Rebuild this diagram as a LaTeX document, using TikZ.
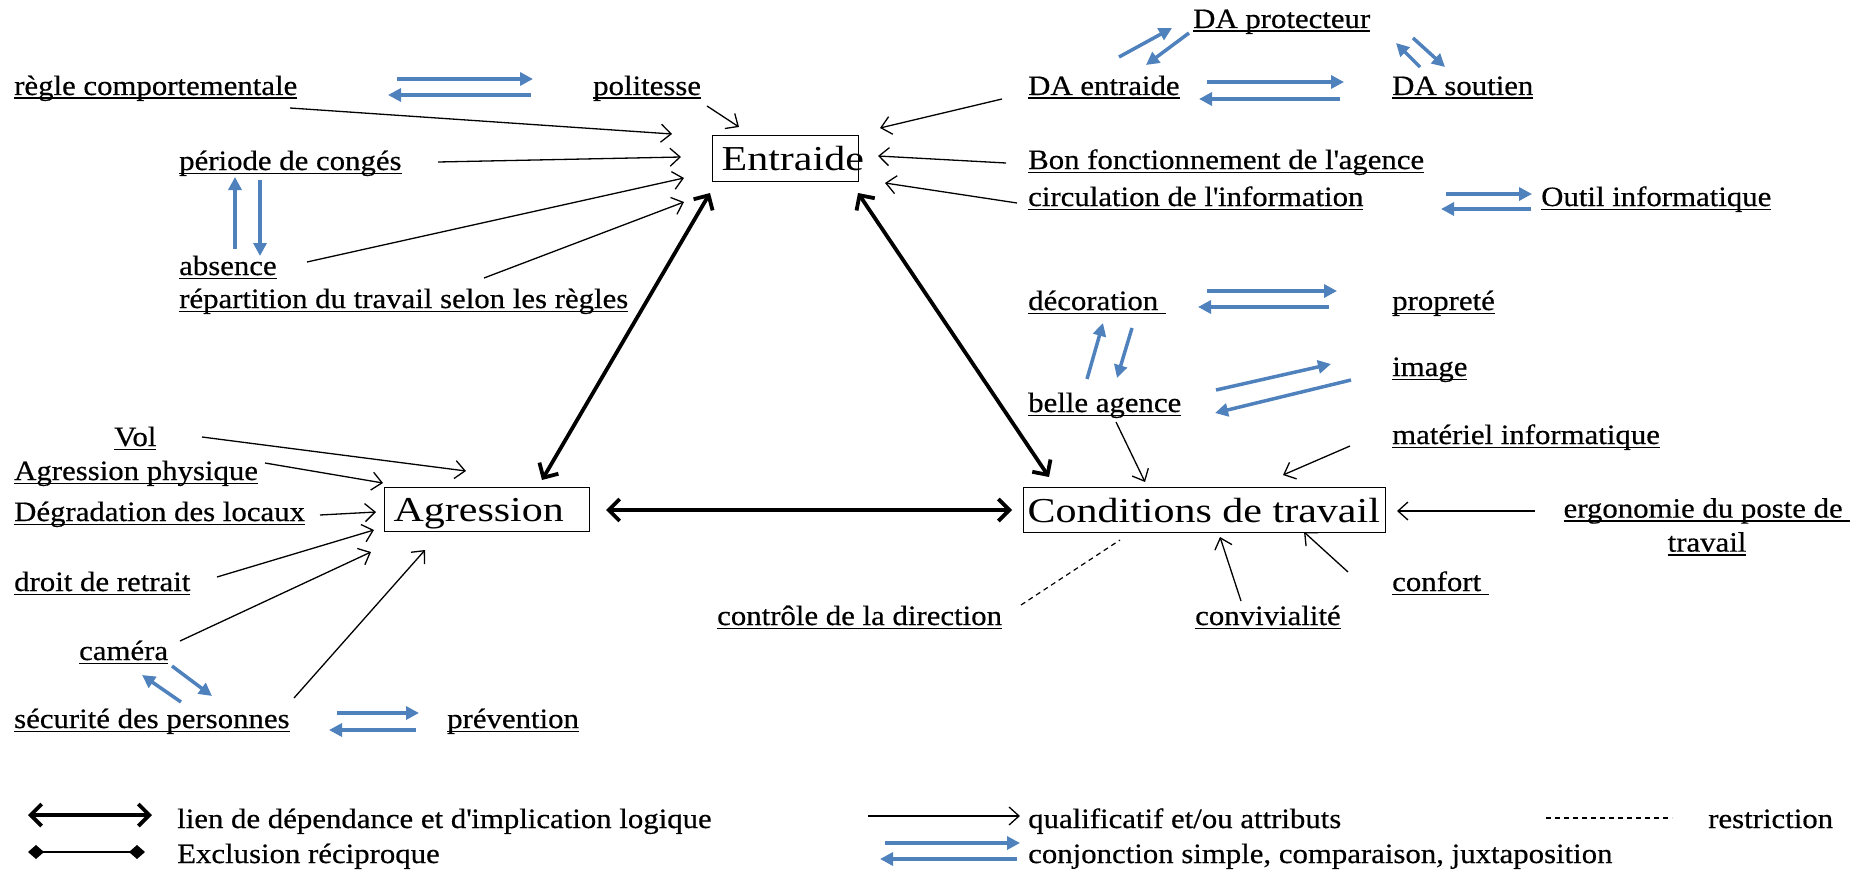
\documentclass[tikz,border=0pt]{standalone}
\usepackage{fontspec}
\setmainfont{Liberation Serif}[FakeStretch=1.1,FakeBold=0.5]
\newfontfamily\boxfnt{Liberation Serif}[FakeStretch=1.2]
\newsavebox\ulbox
\newcommand\uln[1]{\leavevmode\sbox\ulbox{#1}\rlap{\rule[-4pt]{\wd\ulbox}{1.5pt}}\usebox\ulbox}
\usetikzlibrary{arrows.meta}
\definecolor{cblue}{RGB}{79,129,189}
\begin{document}
\begin{tikzpicture}[x=1pt,y=-1pt,
 lbl/.style={inner sep=0pt, anchor=base west, font=\fontsize{28}{34}\selectfont},
 bx/.style={draw, line width=1.2pt, anchor=north west, inner sep=0pt, text height=24pt, text depth=0pt, font=\boxfnt\fontsize{35}{40}\selectfont},
 qa/.style={line width=1.3pt, -{Straight Barb[length=10pt,width=18pt]}},
 cj/.style={cblue, line width=3.5pt, -{Triangle[length=13pt,width=13pt]}},
 dep/.style={line width=3.8pt, {Straight Barb[length=11pt,width=22pt]}-{Straight Barb[length=11pt,width=22pt]}},
 exc/.style={line width=2.6pt, {Diamond[length=16pt,width=14pt]}-{Diamond[length=16pt,width=14pt]}},
 rst/.style={line width=1.2pt, dash pattern=on 5pt off 4pt},
]
\useasboundingbox (0,0) rectangle (1870,872);

% boxes
\node[bx, minimum height=46pt] (ent) at (712,135) {\makebox[146pt][l]{\hspace{9pt}Entraide}};
\node[bx, minimum height=44pt] (agr) at (384,487) {\makebox[205pt][l]{\hspace{9pt}Agression}};
\node[bx, minimum height=45pt] (cnd) at (1023,487) {\makebox[362pt][l]{\hspace{4pt}Conditions de travail}};

% labels
\node[lbl] (rc) at (14,95) {\uln{règle comportementale}};
\node[lbl] (pol) at (593,95) {\uln{politesse}};
\node[lbl] (per) at (179,170) {\uln{période de congés}};
\node[lbl] (abs) at (179,275) {\uln{absence}};
\node[lbl] (rep) at (179,308) {\uln{répartition du travail selon les règles}};
\node[lbl] (dap) at (1193,28) {\uln{DA protecteur}};
\node[lbl] (dae) at (1028,95) {\uln{DA entraide}};
\node[lbl] (das) at (1392,95) {\uln{DA soutien}};
\node[lbl] (bon) at (1028,169) {\uln{Bon fonctionnement de l\textquotesingle agence}};
\node[lbl] (cir) at (1028,206) {\uln{circulation de l\textquotesingle information}};
\node[lbl] (out) at (1541,206) {\uln{Outil informatique}};
\node[lbl] (dec) at (1028,310) {\uln{décoration }};
\node[lbl] (pro) at (1392,310) {\uln{propreté}};
\node[lbl] (img) at (1392,376) {\uln{image}};
\node[lbl] (bel) at (1028,412) {\uln{belle agence}};
\node[lbl] (mat) at (1392,444) {\uln{matériel informatique}};
\node[lbl, anchor=north, align=center] (erg) at (1707,498) {\uln{ergonomie du poste de }\\\uln{travail}};
\node[lbl] (conf) at (1392,591) {\uln{confort }};
\node[lbl] (conv) at (1195,625) {\uln{convivialité}};
\node[lbl] (ctrl) at (717,625) {\uln{contrôle de la direction}};
\node[lbl] (vol) at (114,446) {\uln{Vol}};
\node[lbl] (agp) at (14,480) {\uln{Agression physique}};
\node[lbl] (deg) at (14,521) {\uln{Dégradation des locaux}};
\node[lbl] (dro) at (14,591) {\uln{droit de retrait}};
\node[lbl] (cam) at (79,660) {\uln{caméra}};
\node[lbl] (sec) at (14,728) {\uln{sécurité des personnes}};
\node[lbl] (prev) at (447,728) {\uln{prévention}};

% legend texts
\node[lbl] (t1) at (177,828) {lien de dépendance et d\textquotesingle implication logique};
\node[lbl] (t2) at (177,863) {Exclusion réciproque};
\node[lbl] (t3) at (1028,828) {qualificatif et/ou attributs};
\node[lbl] (t4) at (1028,863) {conjonction simple, comparaison, juxtaposition};
\node[lbl] (t5) at (1708,828) {restriction};

% arrows to Entraide
\draw[qa] ([shift={(276,13)}]rc.base west) -- ([shift={(-40,-1)}]ent.north west);
\draw[qa] ([shift={(114,11)}]pol.base west) -- ([shift={(27,-8)}]ent.north west);
\draw[qa] ([shift={(259,-8)}]per.base west) -- ([shift={(-31,22)}]ent.north west);
\draw[qa] ([shift={(128,-13)}]abs.base west) -- ([shift={(-28,43)}]ent.north west);
\draw[qa] ([shift={(305,-30)}]rep.base west) -- ([shift={(-28,67)}]ent.north west);
\draw[qa] ([shift={(-26,4)}]dae.base west) -- ([shift={(168,-7)}]ent.north west);
\draw[qa] ([shift={(-22,-6)}]bon.base west) -- ([shift={(166,21)}]ent.north west);
\draw[qa] ([shift={(-11,-3)}]cir.base west) -- ([shift={(173,48)}]ent.north west);

% arrows to Agression
\draw[qa] ([shift={(88,-9)}]vol.base west) -- ([shift={(82,-16)}]agr.north west);
\draw[qa] ([shift={(251,-17)}]agp.base west) -- ([shift={(-1,-4)}]agr.north west);
\draw[qa] ([shift={(306,-6)}]deg.base west) -- ([shift={(-8,25)}]agr.north west);
\draw[qa] ([shift={(203,-14)}]dro.base west) -- ([shift={(-10,43)}]agr.north west);
\draw[qa] ([shift={(101,-19)}]cam.base west) -- ([shift={(-13,65)}]agr.north west);
\draw[qa] ([shift={(280,-30)}]sec.base west) -- ([shift={(41,63)}]agr.north west);

% arrows to Conditions
\draw[qa] ([shift={(88,10)}]bel.base west) -- ([shift={(122,-5)}]cnd.north west);
\draw[qa] ([shift={(-42,2)}]mat.base west) -- ([shift={(260,-12)}]cnd.north west);
\draw[qa] ([shift={(-172,13)}]erg.north) -- ([shift={(374,24)}]cnd.north west);
\draw[qa] ([shift={(46,-24)}]conv.base west) -- ([shift={(197,50)}]cnd.north west);
\draw[qa] ([shift={(-44,-19)}]conf.base west) -- ([shift={(281,45)}]cnd.north west);
\draw[rst] ([shift={(304,-20)}]ctrl.base west) -- ([shift={(97,53)}]cnd.north west);

% dependence links
\draw[dep] ([shift={(-2,58)}]ent.north west) -- ([shift={(158,-7)}]agr.north west);
\draw[dep] ([shift={(146,58)}]ent.north west) -- ([shift={(26,-10)}]cnd.north west);
\draw[dep] ([shift={(222,23)}]agr.north west) -- ([shift={(-11,23)}]cnd.north west);

% conjunction pairs
\draw[cj] ([shift={(383,-16)}]rc.base west) -- ([shift={(-60,-16)}]pol.base west);
\draw[cj] ([shift={(-62,0)}]pol.base west) -- ([shift={(374,0)}]rc.base west);
\draw[cj] ([shift={(56,-26)}]abs.base west) -- ([shift={(56,7)}]per.base west);
\draw[cj] ([shift={(81,10)}]per.base west) -- ([shift={(81,-19)}]abs.base west);
\draw[cj] ([shift={(91,-38)}]dae.base west) -- ([shift={(-21,0)}]dap.base west);
\draw[cj] ([shift={(-4,5)}]dap.base west) -- ([shift={(118,-30)}]dae.base west);
\draw[cj] ([shift={(28,-28)}]das.base west) -- ([shift={(203,15)}]dap.base west);
\draw[cj] ([shift={(220,10)}]dap.base west) -- ([shift={(53,-28)}]das.base west);
\draw[cj] ([shift={(179,-13)}]dae.base west) -- ([shift={(-48,-13)}]das.base west);
\draw[cj] ([shift={(-52,4)}]das.base west) -- ([shift={(171,4)}]dae.base west);
\draw[cj] ([shift={(418,-12)}]cir.base west) -- ([shift={(-9,-12)}]out.base west);
\draw[cj] ([shift={(-10,3)}]out.base west) -- ([shift={(413,3)}]cir.base west);
\draw[cj] ([shift={(179,-19)}]dec.base west) -- ([shift={(-55,-19)}]pro.base west);
\draw[cj] ([shift={(-63,-3)}]pro.base west) -- ([shift={(170,-3)}]dec.base west);
\draw[cj] ([shift={(59,-33)}]bel.base west) -- ([shift={(75,13)}]dec.base west);
\draw[cj] ([shift={(104,18)}]dec.base west) -- ([shift={(89,-34)}]bel.base west);
\draw[cj] ([shift={(188,-22)}]bel.base west) -- ([shift={(-61,-12)}]img.base west);
\draw[cj] ([shift={(-41,4)}]img.base west) -- ([shift={(187,1)}]bel.base west);
\draw[cj] ([shift={(167,-26)}]sec.base west) -- ([shift={(63,15)}]cam.base west);
\draw[cj] ([shift={(93,6)}]cam.base west) -- ([shift={(198,-32)}]sec.base west);
\draw[cj] ([shift={(323,-15)}]sec.base west) -- ([shift={(-28,-15)}]prev.base west);
\draw[cj] ([shift={(-31,2)}]prev.base west) -- ([shift={(315,2)}]sec.base west);

% legend symbols
\coordinate (d1) at (28,815); \coordinate (d2) at (152,815);
\draw[dep] (d1) -- (d2);
\coordinate (x1) at (28,852); \coordinate (x2) at (145,852);
\draw[exc] (x1) -- (x2);
\coordinate (q1) at (868,816); \coordinate (q2) at (1020,816);
\draw[qa] (q1) -- (q2);
\coordinate (r1) at (1546,818); \coordinate (r2) at (1672,818);
\draw[rst] (r1) -- (r2);
\coordinate (c1) at (885,843); \coordinate (c2) at (1020,843);
\draw[cj] (c1) -- (c2);
\coordinate (c3) at (1017,859); \coordinate (c4) at (880,859);
\draw[cj] (c3) -- (c4);
\end{tikzpicture}
\end{document}
